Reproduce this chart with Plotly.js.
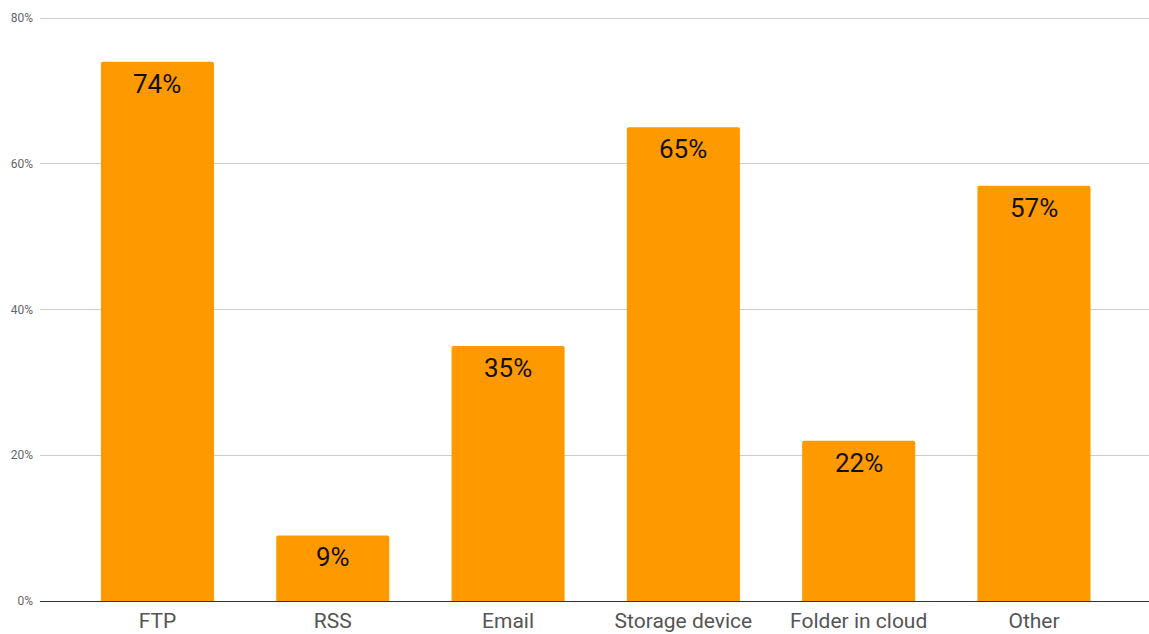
<!DOCTYPE html>
<html><head><meta charset="utf-8">
<script src="https://cdn.plot.ly/plotly-3.0.1.min.js"></script>
<style>html,body{margin:0;padding:0;background:#fff;}#chart{width:1149px;height:634px;}</style>
</head><body><div id="chart"></div>
<script>
const categories = ["FTP", "RSS", "Email", "Storage device", "Folder in cloud", "Other"];
const values = [74, 9, 35, 65, 22, 57];
const yTickVals = [0, 20, 40, 60, 80];
const yTickText = ["0%", "20%", "40%", "60%", "80%"];

const trace = {
  type: "bar",
  x: categories.map((c, i) => i),
  y: values,
  width: 0.645,
  marker: {color: "#FF9900", cornerradius: 2, line: {width: 0}},
  hoverinfo: "none"
};

const annotations = values.map((v, i) => ({
  x: i, y: v, xref: "x", yref: "y",
  text: v + "%", showarrow: false,
  yanchor: "middle", yshift: -22,
  font: {family: "Roboto, Arial, sans-serif", size: 26, color: "#111"}
}));

const layout = {
  width: 1149, height: 634,
  margin: {l: 40, r: 0, t: 16, b: 33},
  paper_bgcolor: "#fff", plot_bgcolor: "#fff",
  showlegend: false,
  xaxis: {
    range: [-0.67, 5.656],
    tickmode: "array",
    tickvals: categories.map((c, i) => i),
    ticktext: categories,
    showgrid: false, zeroline: false, showline: false,
    ticks: "",
    ticklabelstandoff: 5,
    tickfont: {family: "Roboto, Arial, sans-serif", size: 21, color: "#555"},
    fixedrange: true
  },
  yaxis: {
    range: [0, 80.28],
    tickmode: "array",
    tickvals: yTickVals,
    ticktext: yTickText,
    showgrid: true, gridcolor: "#cccccc", gridwidth: 1,
    zeroline: true, zerolinecolor: "#333", zerolinewidth: 1,
    showline: false, ticks: "",
    ticklabelstandoff: 6,
    tickfont: {family: "Roboto, Arial, sans-serif", size: 12, color: "#666"},
    fixedrange: true
  },
  annotations: annotations
};

Plotly.newPlot("chart", [trace], layout, {displayModeBar: false, staticPlot: true});
</script></body></html>
